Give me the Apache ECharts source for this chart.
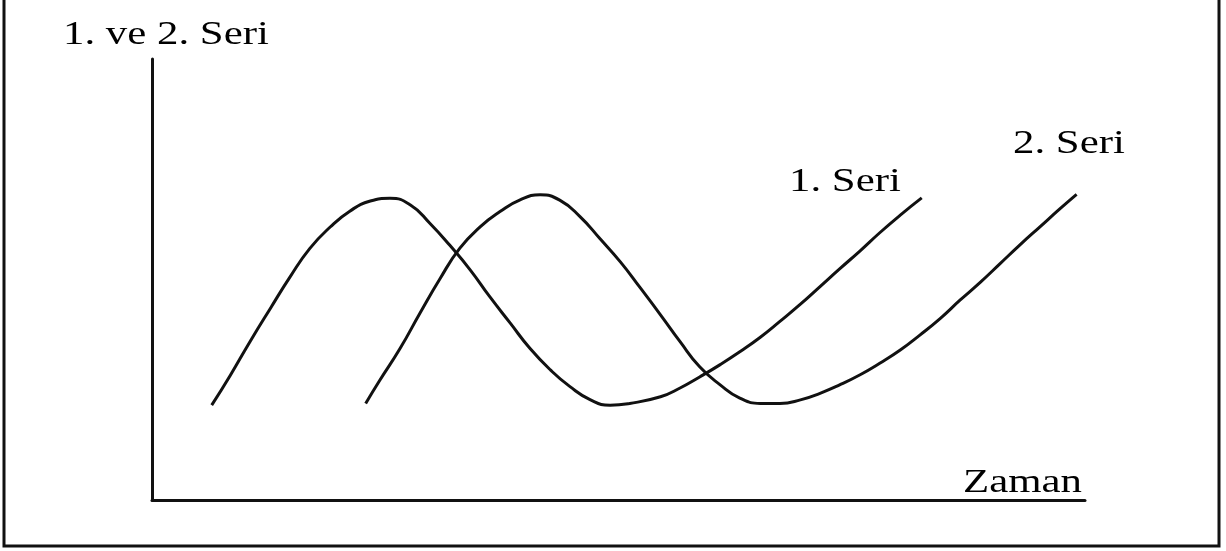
<html>
<head>
    <meta charset="utf-8">
    <title></title>
    <script src="https://cdn.jsdelivr.net/npm/echarts@6/dist/echarts.min.js" type="text/javascript"></script>
    <style>
        html, body { margin: 0; padding: 0; background: #fff; }
    </style>
</head>
<body>
    <div id="main" style="width: 1226px; height: 551px"></div>
    <script>
        // values (arbitrary units, 0-100 on both axes)
        var seri1X = [6.4, 8.4, 10.5, 12.7, 14.8, 16.9, 19.1, 21.2, 23.4, 25.5, 27.7, 29.8, 31.9, 34.1, 36.2, 38.4, 40.5, 42.7, 44.8, 47.0, 49.1, 51.2, 54.5, 56.6, 58.7, 60.9, 63.0, 65.2, 67.3, 69.5, 71.6, 73.7, 75.9, 78.0, 80.2, 82.5];
        var seri1Y = [21.5, 28.3, 35.9, 43.5, 50.6, 57.0, 61.9, 65.5, 67.8, 68.4, 66.9, 62.7, 57.8, 52.2, 46.1, 40.1, 34.4, 29.5, 25.7, 22.7, 21.5, 21.9, 23.4, 25.4, 27.9, 30.7, 33.6, 36.9, 40.5, 44.4, 48.4, 52.4, 56.5, 60.6, 64.6, 68.5];
        var seri2X = [22.9, 24.4, 26.6, 28.7, 30.9, 33.0, 35.2, 37.3, 39.4, 41.6, 43.7, 45.9, 48.0, 50.2, 52.3, 54.5, 56.6, 58.7, 60.9, 63.0, 65.2, 67.3, 69.5, 71.6, 73.7, 75.9, 78.0, 80.2, 82.3, 84.5, 86.6, 88.8, 90.9, 93.0, 95.2, 97.3, 99.1];
        var seri2Y = [21.9, 27.1, 34.4, 42.3, 50.3, 57.1, 62.0, 65.4, 68.0, 69.2, 68.0, 64.2, 59.3, 54.0, 48.2, 42.0, 35.9, 30.2, 26.1, 23.1, 21.9, 21.9, 22.7, 24.2, 26.1, 28.4, 31.0, 34.0, 37.4, 41.2, 45.3, 49.4, 53.6, 57.8, 62.0, 66.0, 69.3];
        var seriNames = ['1. Seri', '2. Seri'];
        var yTitle = '1. ve 2. Seri';
        var xTitle = 'Zaman';

        function pairs(xs, ys) {
            var out = [];
            for (var i = 0; i < xs.length; i++) {
                out.push([xs[i], ys[i]]);
            }
            return out;
        }

        // the reference text is stretched sideways, hence scaleX
        function label(txt, x, y) {
            return {
                type: 'text',
                x: x,
                y: y,
                scaleX: 1.26,
                style: {
                    text: txt,
                    fontFamily: 'Liberation Serif',
                    fontSize: 34,
                    fill: '#000',
                    textAlign: 'left',
                    textVerticalAlign: 'middle'
                }
            };
        }

        window.onload = function () {
            var myChart = echarts.init(document.getElementById('main'));
            var lineStyle = { color: '#111', width: 3 };

            var option = {
                animation: false,
                backgroundColor: '#fff',
                grid: {
                    left: 152,
                    right: 141,
                    top: 59,
                    bottom: 51
                },
                xAxis: {
                    type: 'value',
                    min: 0,
                    max: 100,
                    axisLine: { show: true, lineStyle: lineStyle },
                    axisTick: { show: false },
                    axisLabel: { show: false },
                    splitLine: { show: false }
                },
                yAxis: {
                    type: 'value',
                    min: 0,
                    max: 100,
                    axisLine: { show: true, lineStyle: lineStyle },
                    axisTick: { show: false },
                    axisLabel: { show: false },
                    splitLine: { show: false }
                },
                series: [
                    {
                        name: seriNames[0],
                        type: 'line',
                        smooth: 0.5,
                        showSymbol: false,
                        lineStyle: lineStyle,
                        data: pairs(seri1X, seri1Y)
                    },
                    {
                        name: seriNames[1],
                        type: 'line',
                        smooth: 0.5,
                        showSymbol: false,
                        lineStyle: lineStyle,
                        data: pairs(seri2X, seri2Y)
                    }
                ],
                graphic: [
                    {
                        type: 'rect',
                        shape: { x: 4, y: -10, width: 1215, height: 556 },
                        style: { fill: 'none', stroke: '#111', lineWidth: 3 }
                    },
                    label(yTitle, 63, 35),
                    label(xTitle, 963, 483),
                    label(seriNames[0], 789, 182),
                    label(seriNames[1], 1013, 144)
                ]
            };
            myChart.setOption(option);
        };
    </script>
</body>
</html>
